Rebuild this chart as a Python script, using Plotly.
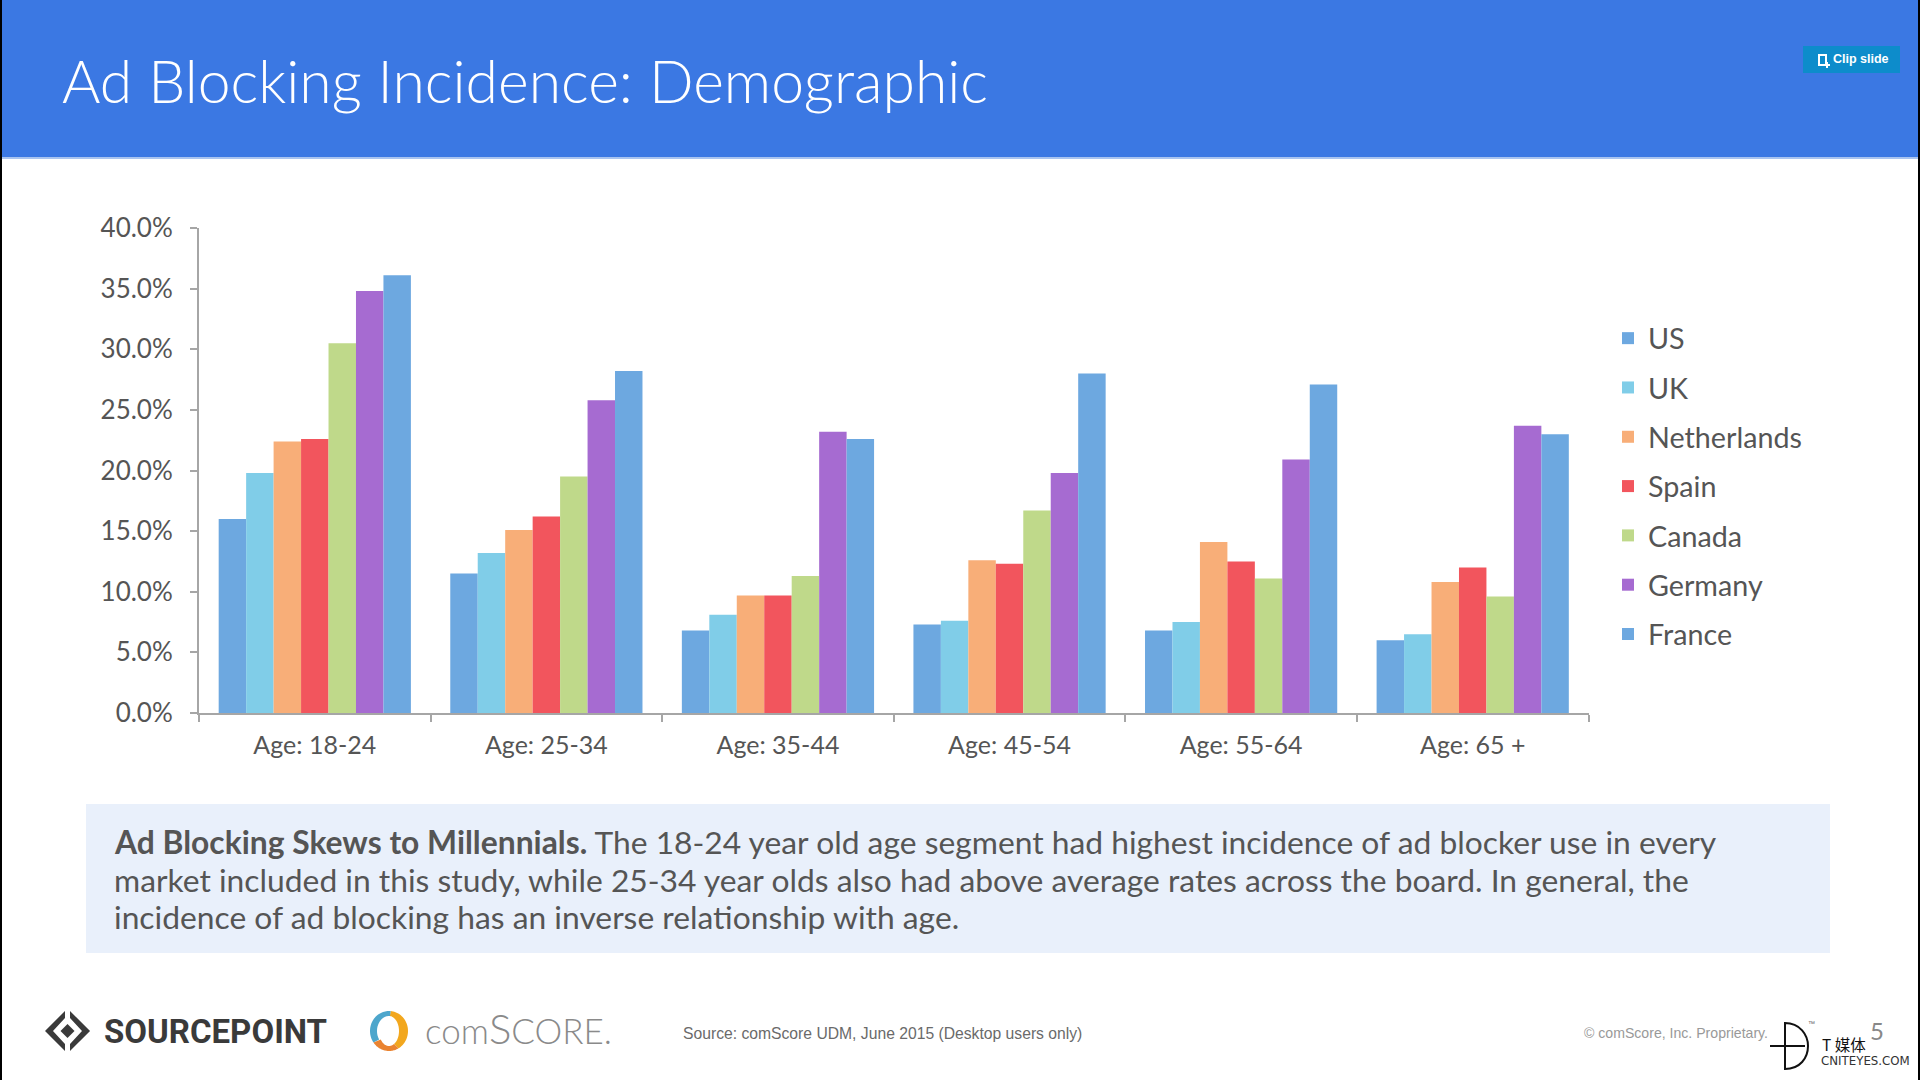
import numpy as np
import plotly.graph_objects as go

W, H = 1920, 1080

categories = ["Age: 18-24", "Age: 25-34", "Age: 35-44", "Age: 45-54", "Age: 55-64", "Age: 65 +"]
us = [16.0, 11.5, 6.8, 7.3, 6.8, 6.0]
uk = [19.8, 13.2, 8.1, 7.6, 7.5, 6.5]
netherlands = [22.4, 15.1, 9.7, 12.6, 14.1, 10.8]
spain = [22.6, 16.2, 9.7, 12.3, 12.5, 12.0]
canada = [30.5, 19.5, 11.3, 16.7, 11.1, 9.6]
germany = [34.8, 25.8, 23.2, 19.8, 20.9, 23.7]
france = [36.1, 28.2, 22.6, 28.0, 27.1, 23.0]
tick_values = [0, 5, 10, 15, 20, 25, 30, 35, 40]
tick_labels = ["0.0%", "5.0%", "10.0%", "15.0%", "20.0%", "25.0%", "30.0%", "35.0%", "40.0%"]

series = [
    ("US", us, "#6DA8E0"),
    ("UK", uk, "#80CDE8"),
    ("Netherlands", netherlands, "#F8AE78"),
    ("Spain", spain, "#F2555D"),
    ("Canada", canada, "#BFD98A"),
    ("Germany", germany, "#A66BD1"),
    ("France", france, "#6DA8E0"),
]

FONT = "Lato"
TXT = "#555555"


def px(x):
    return x / W


def py(y):
    return 1 - y / H


def rect(x0, y0, x1, y1, color):
    return dict(type="rect", xref="paper", yref="paper", x0=px(x0), x1=px(x1),
                y0=py(y0), y1=py(y1), fillcolor=color, line_width=0, layer="below")


def poly(points, color):
    d = "M" + "L".join(f"{px(a):.5f},{py(b):.5f}" for a, b in points) + "Z"
    return dict(type="path", xref="paper", yref="paper", path=d, fillcolor=color,
                line_width=0, layer="above")


def arc_band(cx, cy, rx0, ry0, rx1, ry1, a0, a1, color):
    t = np.radians(np.linspace(a0, a1, 40))
    outer = [(cx + rx1 * np.cos(v), cy - ry1 * np.sin(v)) for v in t]
    inner = [(cx + rx0 * np.cos(v), cy - ry0 * np.sin(v)) for v in t[::-1]]
    return poly(outer + inner, color)


def label(x, y, text, size, color=TXT, family=FONT, xanchor="left", weight=None):
    font = dict(size=size, color=color, family=family)
    if weight is not None:
        font["weight"] = weight
    return dict(xref="paper", yref="paper", x=px(x), y=py(y), text=text, showarrow=False,
                xanchor=xanchor, yanchor="middle", font=font, align="left",
                borderpad=0, borderwidth=0)


fig = go.Figure()
for name, values, color in series:
    fig.add_bar(name=name, x=categories, y=values, marker=dict(color=color, line_width=0),
                legendgroup=name)

shapes = [
    rect(0, 0, W, 157, "#3B78E3"),
    rect(0, 157, W, 159, "#A9C4F0"),
    rect(86, 804, 1830, 953, "#E9F0FB"),
    rect(0, 0, 2, H, "#000000"),
    rect(1918, 0, W, H, "#000000"),
    rect(1803, 46, 1900, 73, "#0D8CCB"),
    # clipboard icon
    poly([(1818, 54), (1827, 54), (1827, 66), (1818, 66)], "#FFFFFF"),
    poly([(1820, 56), (1825, 56), (1825, 64), (1820, 64)], "#0D8CCB"),
    poly([(1824, 64), (1830, 64), (1830, 66), (1824, 66)], "#FFFFFF"),
    poly([(1826, 62), (1828, 62), (1828, 68), (1826, 68)], "#FFFFFF"),
    # Sourcepoint mark
    poly([(65, 1011), (45, 1031), (65, 1051), (65, 1044), (53, 1031), (65, 1018)], "#3A3A3A"),
    poly([(70, 1011), (90, 1031), (70, 1051), (70, 1044), (82, 1031), (70, 1018)], "#3A3A3A"),
    poly([(67.5, 1024), (74.5, 1031), (67.5, 1038), (60.5, 1031)], "#3A3A3A"),
    # comScore mark
    arc_band(389, 1031, 10, 15, 19, 20, -60, 85, "#F2A71E"),
    arc_band(389, 1031, 12, 15, 19, 20, 85, 215, "#4DA6CC"),
    arc_band(389, 1031, 10, 15, 19, 20, 215, 300, "#EA8330"),
    # watermark
    dict(type="path", xref="paper", yref="paper",
         path=(f"M{px(1785)},{py(1023)}C{px(1800)},{py(1023)} {px(1808)},{py(1035)} {px(1808)},{py(1046)}"
               f"C{px(1808)},{py(1058)} {px(1800)},{py(1069)} {px(1785)},{py(1069)}Z"),
         line=dict(color="#111111", width=2), fillcolor="rgba(0,0,0,0)", layer="above"),
    dict(type="line", xref="paper", yref="paper", x0=px(1770), x1=px(1805), y0=py(1046), y1=py(1046),
         line=dict(color="#111111", width=2), layer="above"),
]

annotations = [
    label(62, 80, "Ad Blocking Incidence: Demographic", 58.8, "#FFFFFF", weight=300),
    label(1833, 59, "Clip slide", 12.5, "#FFFFFF", "Liberation Sans", weight=700),
    label(114, 842, "<b>Ad Blocking Skews to Millennials.</b> The 18-24 year old age segment had highest incidence of ad blocker use in every", 31.8),
    label(114, 880, "market included in this study, while 25-34 year olds also had above average rates across the board. In general, the", 31.8),
    label(114, 917, "incidence of ad blocking has an inverse relationship with age.", 31.8),
    label(104, 1031, "<b>SOURCEPOINT</b>", 33, "#3A3A3A", "Roboto"),
    label(425, 1028, "com<span style='font-size:42px'>S</span>CORE.", 35, "#8A8A8A", "Lato", weight=300),
    label(683, 1033, "Source: comScore UDM, June 2015 (Desktop users only)", 15.7, "#6A6A6A", "Liberation Sans"),
    label(1584, 1033, "© comScore, Inc. Proprietary.", 14.1, "#999999", "Liberation Sans"),
    label(1870, 1030, "5", 24, "#888888"),
    label(1808, 1023, "™", 7, "#666666", "Liberation Sans"),
    label(1822, 1044, "T 媒体", 15.5, "#111111", "Noto Sans CJK SC"),
    label(1821, 1061, "CNITEYES.COM", 11.8, "#333333", "DejaVu Sans"),
]

fig.update_layout(
    width=W, height=H, autosize=False,
    margin=dict(l=0, r=0, t=0, b=0, autoexpand=False),
    paper_bgcolor="#FFFFFF", plot_bgcolor="rgba(0,0,0,0)",
    font=dict(family=FONT, color=TXT, size=26),
    barmode="group", bargap=0.17, bargroupgap=0,
    showlegend=True,
    legend=dict(x=px(1608), y=py(313), xanchor="left", yanchor="top", tracegroupgap=9,
                font=dict(size=28.7, color=TXT), bgcolor="rgba(0,0,0,0)", traceorder="grouped"),
    shapes=shapes, annotations=annotations,
    xaxis=dict(domain=[px(199), px(1588.5)], anchor="y", type="category", automargin=False,
               tickson="boundaries", ticks="outside", ticklen=7, tickwidth=1.5, tickcolor="#A6A6A6",
               showline=True, linecolor="#A6A6A6", linewidth=2, showgrid=False, zeroline=False,
               tickfont=dict(size=25, color=TXT), ticklabelstandoff=9),
    yaxis=dict(domain=[py(713), py(228)], anchor="x", range=[0, 40], automargin=False,
               tickvals=tick_values, ticktext=tick_labels, ticks="outside", ticklen=7, tickwidth=1.5,
               tickcolor="#A6A6A6", showline=True, linecolor="#A6A6A6", linewidth=2, showgrid=False,
               zeroline=False, tickfont=dict(size=26, color=TXT), ticklabelstandoff=12),
)

fig.write_html("out.html", config={"displayModeBar": False},
               post_script="document.body.style.margin='0';document.body.style.overflow='hidden';")
